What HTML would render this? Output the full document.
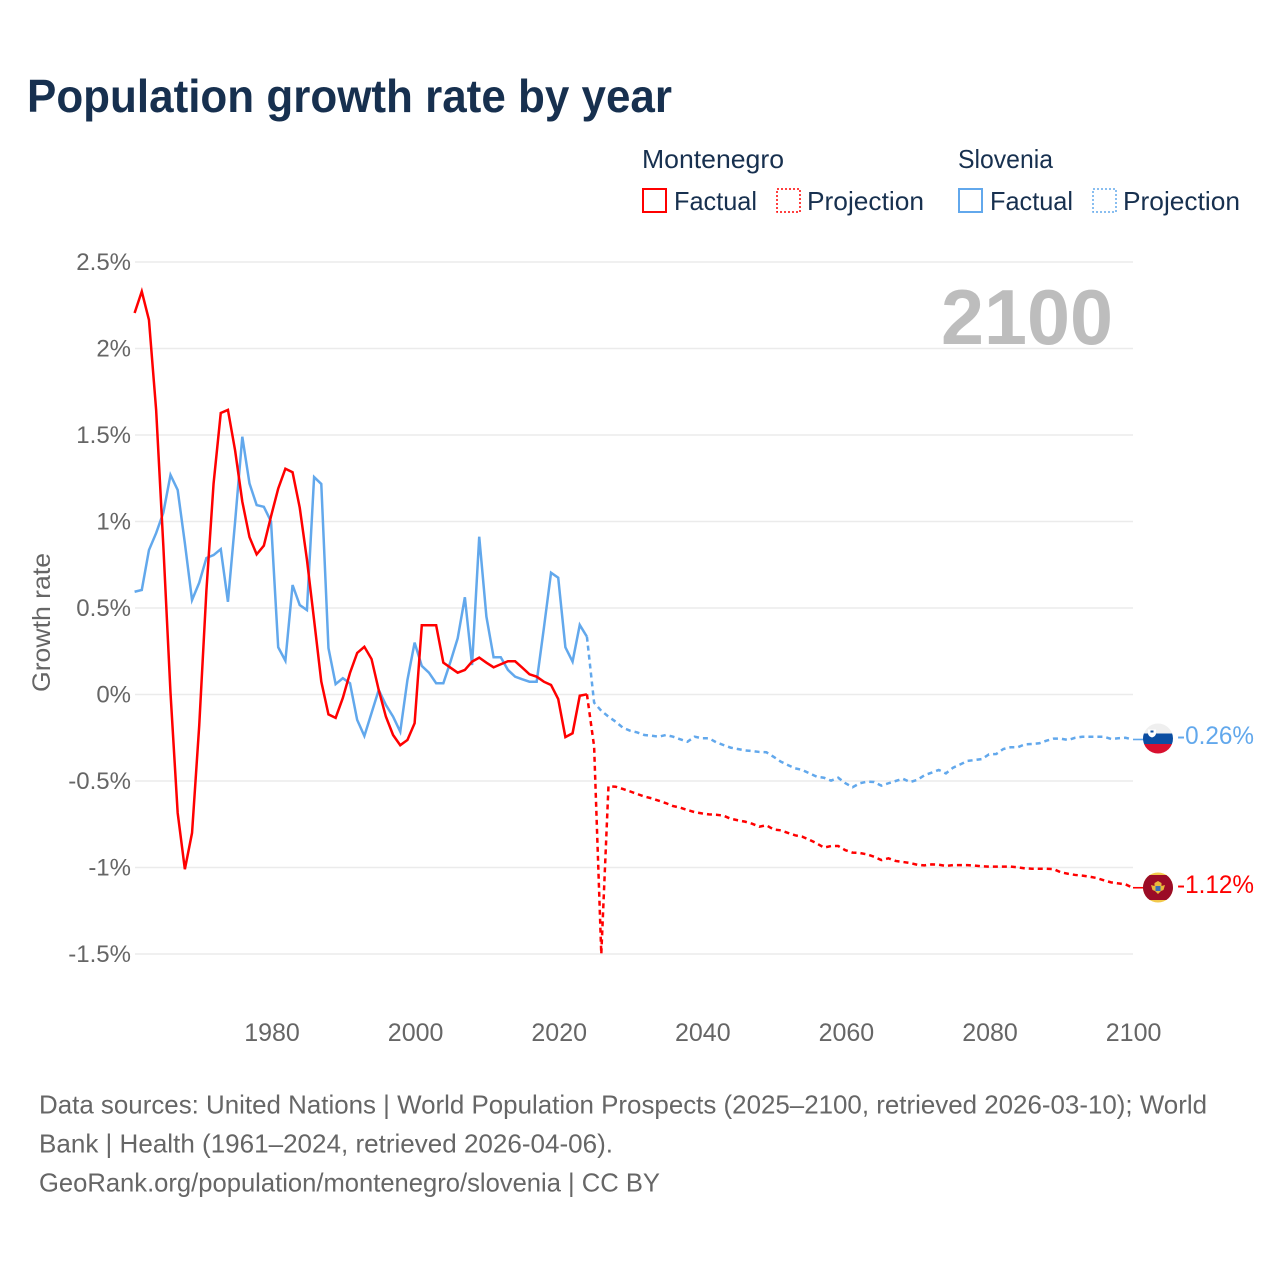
<!DOCTYPE html>
<html lang="en">
<head>
<meta charset="utf-8">
<title>Population growth rate by year</title>
<style>
html,body{margin:0;padding:0;background:#fff;}
svg{display:block;font-family:"Liberation Sans",sans-serif;}
</style>
</head>
<body>
<svg id="chart" xmlns="http://www.w3.org/2000/svg" width="1280" height="1280" viewBox="0 0 1280 1280">
  <rect x="0" y="0" width="1280" height="1280" fill="#ffffff"/>
  <text x="27" y="112" font-size="46" font-weight="700" fill="#17304f" textLength="645" lengthAdjust="spacingAndGlyphs">Population growth rate by year</text>

  <g fill="#17304f" font-size="26">
    <text x="642" y="168" textLength="142" lengthAdjust="spacingAndGlyphs">Montenegro</text>
    <text x="958" y="168" textLength="95" lengthAdjust="spacingAndGlyphs">Slovenia</text>
    <rect x="643" y="189" width="23" height="23" fill="none" stroke="#ff0000" stroke-width="2"/>
    <text x="674" y="210" textLength="83" lengthAdjust="spacingAndGlyphs">Factual</text>
    <rect x="777" y="189" width="23" height="23" fill="none" stroke="#ff0000" stroke-width="1.5" stroke-dasharray="2 2"/>
    <text x="807" y="210" textLength="117" lengthAdjust="spacingAndGlyphs">Projection</text>
    <rect x="959" y="189" width="23" height="23" fill="none" stroke="#62a8ec" stroke-width="2"/>
    <text x="990" y="210" textLength="83" lengthAdjust="spacingAndGlyphs">Factual</text>
    <rect x="1093" y="189" width="23" height="23" fill="none" stroke="#62a8ec" stroke-width="1.5" stroke-dasharray="2 2"/>
    <text x="1123" y="210" textLength="117" lengthAdjust="spacingAndGlyphs">Projection</text>
  </g>

  <g id="grid"></g>
  <g id="y-axis"></g>
  <g id="x-axis"></g>
  <text transform="translate(50,692) rotate(-90)" font-size="25" fill="#666666" textLength="139" lengthAdjust="spacingAndGlyphs">Growth rate</text>
  <text x="941" y="344" font-size="78" font-weight="700" fill="#bdbdbd" textLength="172" lengthAdjust="spacingAndGlyphs">2100</text>

  <g id="series"></g>

  <defs>
    <clipPath id="flag-si-clip"><circle cx="1158" cy="738.5" r="15"/></clipPath>
    <clipPath id="flag-me-clip"><circle cx="1158" cy="887.5" r="15"/></clipPath>
  </defs>
  <g clip-path="url(#flag-si-clip)">
    <rect x="1143" y="723" width="30" height="11" fill="#efefef"/>
    <rect x="1143" y="733.5" width="30" height="10.5" fill="#0b4ea2"/>
    <rect x="1143" y="744" width="30" height="10.5" fill="#d8102f"/>
    <path d="M1148 729.5h8v4q0 2.500-4 4q-4-1.500-4-4z" fill="#ffffff"/>
    <rect x="1150.500" y="730.500" width="3" height="2" fill="#0b4ea2"/>
  </g>
  <g clip-path="url(#flag-me-clip)">
    <rect x="1143" y="872" width="30" height="31" fill="#f2c94c"/>
    <rect x="1143" y="875" width="30" height="25" fill="#9b0c27"/>
    <path d="M1151 885l3.500 1v-3l3.500-2l3.500 2v3l3.500-1l-1.500 5l-2.500 1l-3 3l-3-3l-2.500-1z" fill="#e8b93c"/>
    <rect x="1155.500" y="886" width="5" height="5" fill="#3b6fb5"/>
  </g>

  <text id="label-si" x="1177" y="744" font-size="25" fill="#62a8ec" textLength="77" lengthAdjust="spacingAndGlyphs">-0.26%</text>
  <text id="label-me" x="1177" y="893" font-size="25" fill="#ff0000" textLength="77" lengthAdjust="spacingAndGlyphs">-1.12%</text>

  <g font-size="26" fill="#666666">
    <text x="39" y="1113.500" textLength="1168" lengthAdjust="spacingAndGlyphs">Data sources: United Nations | World Population Prospects (2025–2100, retrieved 2026-03-10); World</text>
    <text x="39" y="1152.500" textLength="574" lengthAdjust="spacingAndGlyphs">Bank | Health (1961–2024, retrieved 2026-04-06).</text>
    <text x="39" y="1191.500" textLength="621" lengthAdjust="spacingAndGlyphs">GeoRank.org/population/montenegro/slovenia | CC BY</text>
  </g>
</svg>
<script>
const yTickValues = [2.5, 2, 1.5, 1, 0.5, 0, -0.5, -1, -1.5];
const yTickLabels = ["2.5%", "2%", "1.5%", "1%", "0.5%", "0%", "-0.5%", "-1%", "-1.5%"];
const xTickYears = [1980, 2000, 2020, 2040, 2060, 2080, 2100];
const factualYears = [1961,1962,1963,1964,1965,1966,1967,1968,1969,1970,1971,1972,1973,1974,1975,1976,1977,1978,1979,1980,1981,1982,1983,1984,1985,1986,1987,1988,1989,1990,1991,1992,1993,1994,1995,1996,1997,1998,1999,2000,2001,2002,2003,2004,2005,2006,2007,2008,2009,2010,2011,2012,2013,2014,2015,2016,2017,2018,2019,2020,2021,2022,2023,2024];
const projectionYears = [2024,2025,2026,2027,2028,2029,2030,2031,2032,2033,2034,2035,2036,2037,2038,2039,2040,2041,2042,2043,2044,2045,2046,2047,2048,2049,2050,2051,2052,2053,2054,2055,2056,2057,2058,2059,2060,2061,2062,2063,2064,2065,2066,2067,2068,2069,2070,2071,2072,2073,2074,2075,2076,2077,2078,2079,2080,2081,2082,2083,2084,2085,2086,2087,2088,2089,2090,2091,2092,2093,2094,2095,2096,2097,2098,2099,2100];
const montenegroFactual = [2.205,2.33,2.165,1.645,0.86,0.01,-0.685,-1.01,-0.80,-0.18,0.6,1.22,1.627,1.645,1.41,1.115,0.91,0.81,0.86,1.03,1.19,1.305,1.285,1.08,0.78,0.43,0.075,-0.115,-0.135,-0.02,0.125,0.24,0.276,0.205,0.026,-0.128,-0.234,-0.293,-0.263,-0.166,0.40,0.40,0.40,0.184,0.155,0.126,0.142,0.19,0.213,0.184,0.157,0.175,0.192,0.192,0.155,0.117,0.103,0.074,0.055,-0.026,-0.246,-0.224,-0.007,0.001];
const sloveniaFactual = [0.594,0.604,0.835,0.933,1.05,1.269,1.182,0.875,0.546,0.646,0.789,0.806,0.84,0.536,1.0,1.49,1.22,1.095,1.085,1.0,0.273,0.195,0.633,0.517,0.488,1.257,1.217,0.268,0.06,0.094,0.065,-0.147,-0.24,-0.107,0.026,-0.06,-0.128,-0.215,0.084,0.30,0.165,0.126,0.065,0.065,0.19,0.325,0.562,0.17,0.912,0.45,0.215,0.215,0.142,0.103,0.088,0.074,0.074,0.383,0.704,0.675,0.273,0.19,0.402,0.334];
const montenegroProjection = [0.001,-0.30,-1.5,-0.53,-0.533,-0.546,-0.56,-0.575,-0.59,-0.60,-0.614,-0.628,-0.645,-0.654,-0.668,-0.68,-0.687,-0.693,-0.695,-0.70,-0.718,-0.727,-0.735,-0.747,-0.764,-0.756,-0.78,-0.785,-0.80,-0.814,-0.822,-0.84,-0.86,-0.885,-0.876,-0.876,-0.9,-0.914,-0.916,-0.924,-0.938,-0.957,-0.947,-0.962,-0.968,-0.974,-0.984,-0.988,-0.982,-0.984,-0.991,-0.986,-0.986,-0.986,-0.989,-0.993,-0.995,-0.995,-0.995,-0.995,-0.999,-1.005,-1.007,-1.007,-1.007,-1.009,-1.028,-1.036,-1.043,-1.047,-1.053,-1.061,-1.074,-1.086,-1.092,-1.097,-1.117];
const sloveniaProjection = [0.334,-0.047,-0.094,-0.128,-0.157,-0.192,-0.209,-0.219,-0.234,-0.238,-0.244,-0.234,-0.244,-0.259,-0.273,-0.244,-0.253,-0.253,-0.276,-0.292,-0.307,-0.315,-0.323,-0.327,-0.332,-0.334,-0.36,-0.388,-0.408,-0.427,-0.436,-0.456,-0.475,-0.481,-0.498,-0.481,-0.513,-0.536,-0.513,-0.504,-0.506,-0.527,-0.513,-0.5,-0.487,-0.506,-0.494,-0.467,-0.452,-0.436,-0.456,-0.423,-0.404,-0.384,-0.379,-0.373,-0.346,-0.344,-0.315,-0.305,-0.305,-0.288,-0.286,-0.282,-0.267,-0.255,-0.255,-0.263,-0.25,-0.244,-0.244,-0.244,-0.244,-0.257,-0.253,-0.25,-0.26];

const SVG_NS = "http://www.w3.org/2000/svg";
const PLOT_LEFT = 135, PLOT_RIGHT = 1133;
function xScale(year){ return 134.6 + (year - 1961) * (998 / 139); }
function yScale(value){ return 694.5 - value * 173; }
function pathFor(years, values){
  return values.map(function(v, i){ return (i ? "L" : "M") + xScale(years[i]).toFixed(2) + " " + yScale(v).toFixed(2); }).join("");
}

const gridGroup = document.getElementById("grid");
const yAxisGroup = document.getElementById("y-axis");
yTickValues.forEach(function(v, i){
  const line = document.createElementNS(SVG_NS, "line");
  
  
  line.setAttribute("x1", PLOT_LEFT);
  line.setAttribute("x2", PLOT_RIGHT);
  line.setAttribute("y1", yScale(v));
  line.setAttribute("y2", yScale(v));
  line.setAttribute("stroke", "#ebebeb");
  line.setAttribute("stroke-width", "1.5");
  gridGroup.appendChild(line);
  const label = document.createElementNS(SVG_NS, "text");
  
  
  label.setAttribute("x", 131);
  label.setAttribute("y", yScale(v) + 8);
  label.setAttribute("text-anchor", "end");
  label.setAttribute("font-size", "24");
  label.setAttribute("fill", "#666666");
  label.textContent = yTickLabels[i];
  yAxisGroup.appendChild(label);
});

const xAxisGroup = document.getElementById("x-axis");
xTickYears.forEach(function(year){
  const label = document.createElementNS(SVG_NS, "text");
  
  
  label.setAttribute("x", xScale(year) + 1);
  label.setAttribute("y", 1041);
  label.setAttribute("text-anchor", "middle");
  label.setAttribute("font-size", "25");
  label.setAttribute("fill", "#666666");
  label.textContent = String(year);
  xAxisGroup.appendChild(label);
});

const seriesGroup = document.getElementById("series");
function addLine(name, years, values, color, dashed){
  const p = document.createElementNS(SVG_NS, "path");
  
  
  p.setAttribute("d", pathFor(years, values));
  p.setAttribute("fill", "none");
  p.setAttribute("stroke", color);
  p.setAttribute("stroke-width", "2.5");
  p.setAttribute("stroke-linejoin", "miter");
  if (dashed) p.setAttribute("stroke-dasharray", "5 4");
  seriesGroup.appendChild(p);
}
function addConnector(name, value, color){
  const c = document.createElementNS(SVG_NS, "line");
  
  
  c.setAttribute("x1", PLOT_RIGHT);
  c.setAttribute("x2", 1144);
  c.setAttribute("y1", yScale(value));
  c.setAttribute("y2", yScale(value));
  c.setAttribute("stroke", color);
  c.setAttribute("stroke-width", "1.6");
  seriesGroup.appendChild(c);
}
addLine("slovenia-factual-line", factualYears, sloveniaFactual, "#62a8ec", false);
addLine("montenegro-factual-line", factualYears, montenegroFactual, "#ff0000", false);
addLine("slovenia-projection-line", projectionYears, sloveniaProjection, "#62a8ec", true);
addLine("montenegro-projection-line", projectionYears, montenegroProjection, "#ff0000", true);
addConnector("slovenia-end-connector", sloveniaProjection[sloveniaProjection.length - 1], "#62a8ec");
addConnector("montenegro-end-connector", montenegroProjection[montenegroProjection.length - 1], "#ff0000");
</script>
</body>
</html>
